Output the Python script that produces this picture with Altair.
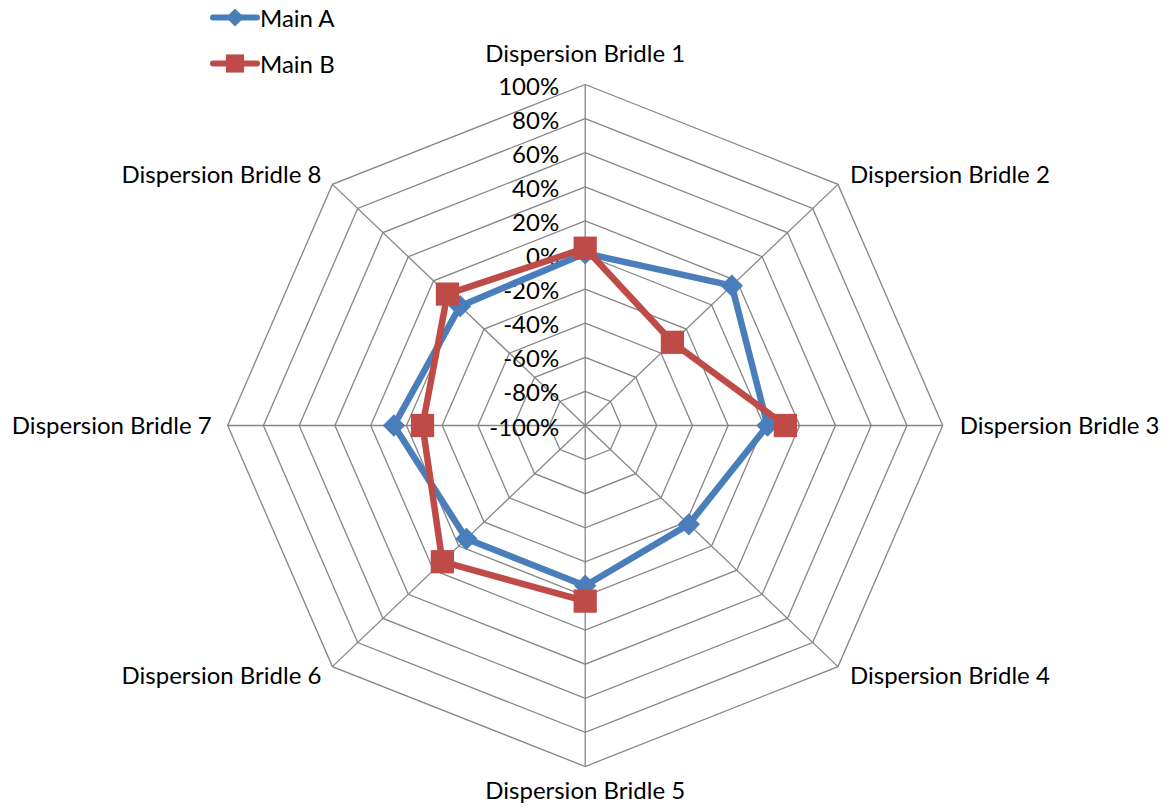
import altair as alt
import pandas as pd
import math

# ---------------- data ----------------
categories = [
    "Dispersion Bridle 1", "Dispersion Bridle 2", "Dispersion Bridle 3",
    "Dispersion Bridle 4", "Dispersion Bridle 5", "Dispersion Bridle 6",
    "Dispersion Bridle 7", "Dispersion Bridle 8",
]
main_a = [1, 16, 2, -18, -6, -6, 7, -1]
main_b = [4, -31, 12, None, 3, 13, -9, 9]
series_names = ["Main A", "Main B"]
series_colors = ["#4A7EBB", "#BE4B48"]
tick_levels = [-100, -80, -60, -40, -20, 0, 20, 40, 60, 80, 100]
tick_labels = ["-100%", "-80%", "-60%", "-40%", "-20%", "0%", "20%", "40%", "60%", "80%", "100%"]

# ---------------- layout ----------------
W, H = 1152, 796
CX, CY = 577.2, 417.5          # centre in plot pixels
RX, RY = 357.5, 341.0          # radius of the 100% ring in pixels
XDOM = [-CX / RX, (W - CX) / RX]
YDOM = [-(H - CY) / RY, CY / RY]
FONT = "Lato"
FS = 24
GRID = "#868686"

n = len(categories)
vmin, vmax = tick_levels[0], tick_levels[-1]

xs = alt.Scale(domain=XDOM, nice=False, zero=False)
ys = alt.Scale(domain=YDOM, nice=False, zero=False)


def polar(ch):
    return ch.transform_calculate(
        theta=f"datum.idx * 2 * PI / {n}",
        r=f"(datum.value - ({vmin})) / ({vmax} - ({vmin}))",
    ).transform_calculate(
        x="datum.r * sin(datum.theta)",
        y="datum.r * cos(datum.theta)",
    )


X = alt.X("x:Q", scale=xs, axis=None)
Y = alt.Y("y:Q", scale=ys, axis=None)

# ---- grid rings ----
ring_rows = []
for lv in tick_levels[1:]:
    for k in range(n + 1):
        ring_rows.append({"level": lv, "idx": k % n, "value": lv, "ord": k})
rings = polar(alt.Chart(pd.DataFrame(ring_rows))).mark_line(
    color=GRID, strokeWidth=1.3
).encode(x=X, y=Y, detail="level:N", order="ord:Q")

# ---- spokes ----
spoke_df = pd.DataFrame({"idx": list(range(n)), "value": [vmax] * n})
spokes = polar(alt.Chart(spoke_df)).transform_calculate(
    x0="0", y0="0"
).mark_rule(color=GRID, strokeWidth=1.3).encode(
    x=alt.X("x0:Q", scale=xs, axis=None),
    y=alt.Y("y0:Q", scale=ys, axis=None),
    x2="x:Q", y2="y:Q",
)

# ---- tick labels ----
tick_df = pd.DataFrame({"idx": [0] * len(tick_levels), "value": tick_levels, "label": tick_labels})
ticks = polar(alt.Chart(tick_df)).mark_text(
    align="right", baseline="middle", dx=-26, dy=3, font=FONT, fontSize=FS, color="black"
).encode(x=X, y=Y, text="label:N")

# ---- category labels ----
cat_df = pd.DataFrame({"idx": list(range(n)), "value": [vmax] * n, "cat": categories})
label_style = [
    ("center", 0, -30),
    ("left", 12, -8),
    ("left", 17, 1),
    ("left", 12, 10),
    ("center", 0, 25),
    ("right", -11, 10),
    ("right", -16, 1),
    ("right", -11, -8),
]
cat_layers = []
for i, (al, dx, dy) in enumerate(label_style):
    cat_layers.append(
        polar(alt.Chart(cat_df)).transform_filter(f"datum.idx == {i}").mark_text(
            align=al, baseline="middle", dx=dx, dy=dy, font=FONT, fontSize=FS, color="black"
        ).encode(x=X, y=Y, text="cat:N")
    )


# ---- series ----
def path_rows(name, vals):
    out = []
    missing = [i for i, v in enumerate(vals) if v is None]
    start = (missing[0] + 1) if missing else 0
    count = n if missing else n + 1
    seg = 0
    for k in range(count):
        i = (start + k) % n
        v = vals[i]
        if v is None:
            seg += 1
            continue
        out.append({"series": name, "seg": f"{name}-{seg}", "idx": i, "value": v, "ord": k})
    return out


series_vals = [main_a, main_b]
shapes = ["diamond", "square"]
sizes = [500, 540]
series_layers = []
for name, vals, col, shp, sz in zip(series_names, series_vals, series_colors, shapes, sizes):
    pdf = pd.DataFrame(path_rows(name, vals))
    line = polar(alt.Chart(pdf)).mark_line(
        color=col, strokeWidth=6.5, strokeJoin="round"
    ).encode(x=X, y=Y, detail="seg:N", order="ord:Q")
    ptdf = pd.DataFrame([{"idx": i, "value": v} for i, v in enumerate(vals) if v is not None])
    pts = polar(alt.Chart(ptdf)).mark_point(
        shape=shp, size=sz, filled=True, color=col, opacity=1
    ).encode(x=X, y=Y)
    series_layers += [line, pts]

# ---- legend (manual) ----
leg_df = pd.DataFrame({"series": series_names})
legend_layers = []
leg_y = [9.5, 55.5]
for name, col, shp, ly in zip(series_names, series_colors, shapes, leg_y):
    base = alt.Chart(leg_df).transform_filter(f"datum.series == '{name}'")
    legend_layers.append(
        base.mark_rule(color=col, strokeWidth=6, strokeCap="round").encode(
            x=alt.value(205), x2=alt.value(249), y=alt.value(ly)
        )
    )
    legend_layers.append(
        base.mark_point(shape=shp, size=330, filled=True, color=col, opacity=1).encode(
            x=alt.value(227), y=alt.value(ly)
        )
    )
    legend_layers.append(
        base.mark_text(align="left", baseline="middle", font=FONT, fontSize=FS, color="black").encode(
            x=alt.value(252), y=alt.value(ly + 2.5), text="series:N"
        )
    )

chart = alt.layer(
    rings, spokes, ticks, *cat_layers, *series_layers, *legend_layers
).properties(
    width=W, height=H, padding=0, autosize=alt.AutoSizeParams(type="none")
).configure_view(stroke=None)

chart.save("out.html", embed_options={"renderer": "svg", "actions": False})
